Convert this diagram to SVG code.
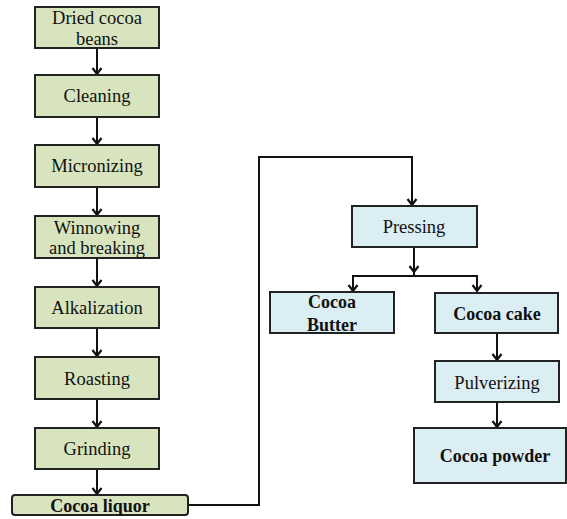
<svg xmlns="http://www.w3.org/2000/svg" width="567" height="519" viewBox="0 0 567 519">
<style>
.g{fill:#d7e4bd;stroke:#222;stroke-width:2}
.b{fill:#dbeef3;stroke:#222;stroke-width:2}
text{font-family:"Liberation Serif","Times New Roman",Times,serif;font-size:18.5px;fill:#111;text-anchor:middle}
.bd{font-weight:bold;font-size:18px}
.c{fill:none;stroke:#111;stroke-width:2}
.h{fill:none;stroke:#111;stroke-width:2.2;stroke-linejoin:miter}
</style>
<rect width="567" height="519" fill="#fff"/>
<g id="connectors">
<path class="c" d="M97,48V74M97,117V144M97,187V215M97,258V286M97,328V356M97,399V427M97,469V494"/>
<polyline class="c" points="188,505 259,505 259,157 412,157 412,205"/>
<path class="c" d="M414,247V275M353,291V276H477V291M497,333V360M497,402V427"/>
<path class="h" d="M92.5,68L97,74L101.5,68M92.5,138L97,144L101.5,138M92.5,209L97,215L101.5,209M92.5,280L97,286L101.5,280M92.5,350L97,356L101.5,350M92.5,421L97,427L101.5,421M92.5,488L97,494L101.5,488"/>
<path class="h" d="M407.5,199L412,205L416.5,199M409.5,266L414,272L418.5,266M348.5,285L353,291L357.5,285M472.5,285L477,291L481.5,285M492.5,354L497,360L501.5,354M492.5,421L497,427L501.5,421"/>
</g>
<g id="n1"><rect class="g" x="35" y="7" width="124" height="41"/><text x="97" y="24">Dried cocoa</text><text x="97" y="45">beans</text></g>
<g id="n2"><rect class="g" x="35" y="75" width="124" height="42"/><text x="97" y="102">Cleaning</text></g>
<g id="n3"><rect class="g" x="35" y="145" width="124" height="42"/><text x="97" y="172">Micronizing</text></g>
<g id="n4"><rect class="g" x="35" y="216" width="124" height="42"/><text x="97" y="234">Winnowing</text><text x="97" y="254">and breaking</text></g>
<g id="n5"><rect class="g" x="35" y="287" width="124" height="41"/><text x="97" y="314">Alkalization</text></g>
<g id="n6"><rect class="g" x="35" y="357" width="124" height="42"/><text x="97" y="385">Roasting</text></g>
<g id="n7"><rect class="g" x="35" y="428" width="124" height="41"/><text x="97" y="455">Grinding</text></g>
<g id="n8"><rect class="g" x="12" y="495" width="176" height="20" rx="3"/><text class="bd" x="100" y="512">Cocoa liquor</text></g>
<g id="n9"><rect class="b" x="352" y="206" width="125" height="41"/><text x="414" y="233">Pressing</text></g>
<g id="n10"><rect class="b" x="270" y="292" width="124" height="41"/><text class="bd" x="332" y="308">Cocoa</text><text class="bd" x="332" y="331">Butter</text></g>
<g id="n11"><rect class="b" x="435" y="293" width="123" height="40"/><text class="bd" x="497" y="320">Cocoa cake</text></g>
<g id="n12"><rect class="b" x="435" y="361" width="124" height="41"/><text x="497" y="389">Pulverizing</text></g>
<g id="n13"><rect class="b" x="414" y="428" width="152" height="55"/><text class="bd" x="495" y="462">Cocoa powder</text></g>
</svg>
